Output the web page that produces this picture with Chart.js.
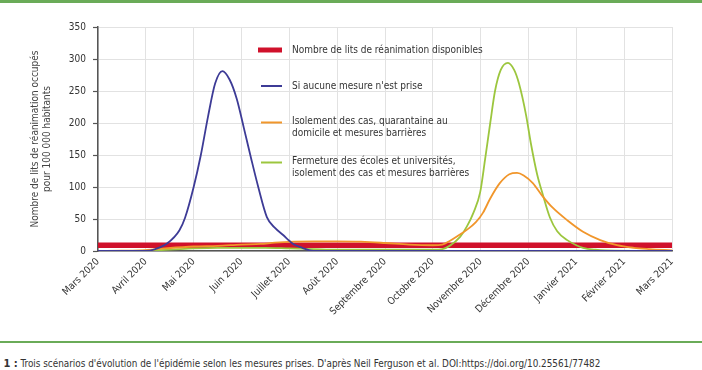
<!DOCTYPE html>
<html lang="fr">
<head>
<meta charset="utf-8">
<script src="https://cdn.jsdelivr.net/npm/chart.js@4.4.1/dist/chart.umd.min.js"></script>
<style>
  html, body { margin: 0; padding: 0; background: #fff; }
  body { width: 702px; height: 370px; position: relative; overflow: hidden;
         font-family: "DejaVu Sans Condensed", sans-serif; }
  .bar { position: absolute; left: 0; width: 702px; background: #6aab58; }
  #top { top: 0; height: 3px; }
  #bottom { top: 341px; height: 2px; }
  #wrap { position: absolute; left: 0; top: 0; width: 702px; height: 335px; }
  #caption { position: absolute; left: -21px; top: 357px; font-size: 9.85px; color: #333; white-space: nowrap; }
  #caption b { font-size: 11px; }
</style>
</head>
<body>
<div class="bar" id="top"></div>
<div id="wrap"><canvas id="chart"></canvas></div>
<div class="bar" id="bottom"></div>
<div id="caption"><b>Fig. 1 :</b> Trois scénarios d'évolution de l'épidémie selon les mesures prises. D'après Neil Ferguson et al. DOI:https://doi.org/10.25561/77482</div>
<script>
// Axis labels
const monthLabels = ["Mars 2020", "Avril 2020", "Mai 2020", "Juin 2020", "Juillet 2020", "Août 2020",
  "Septembre 2020", "Octobre 2020", "Novembre 2020", "Décembre 2020", "Janvier 2021", "Février 2021", "Mars 2021"];
const yTitle = ["Nombre de lits de réanimation occupés", "pour 100 000 habitants"];

// Legend labels
const bedsLabel = ["Nombre de lits de réanimation disponibles"];
const noActionLabel = ["Si aucune mesure n'est prise"];
const isolationLabel = ["Isolement des cas, quarantaine au", "domicile et mesures barrières"];
const schoolsLabel = ["Fermeture des écoles et universités,", "isolement des cas et mesures barrières"];

// Series (x = months since Mars 2020)
const bedsX = [0, 12];
const bedsY = [9, 9];

const noActionX = [0, 1.0, 1.2, 1.45, 1.7, 1.82, 2.0, 2.15, 2.3, 2.45, 2.6, 2.75, 2.9, 3.05, 3.2, 3.35, 3.53, 3.7, 3.87, 4.0, 4.1, 4.27, 4.5, 12];
const noActionY = [0, 0, 3, 12, 32, 52, 100, 150, 210, 262, 281, 268, 238, 192, 145, 100, 53, 36, 25, 16, 10, 5, 0, 0];

const isolationX = [0, 0.5, 1, 1.4, 2, 2.5, 3, 3.4, 3.7, 4.1, 4.5, 5, 5.5, 6, 6.5, 7, 7.2, 7.36, 7.55, 7.71, 7.9, 8.05, 8.2, 8.4, 8.6, 8.76, 8.9, 9.09, 9.28, 9.5, 9.81, 10.14, 10.5, 10.85, 11.2, 11.54, 12];
const isolationY = [0, 0.5, 1.5, 4, 7, 8, 10, 11, 13, 14.5, 15, 15, 14.5, 12.5, 10, 9, 10, 16, 25, 33, 45, 60, 82, 106, 120, 122, 118, 106, 87, 68, 48, 30, 17, 9, 5, 3, 1];

const schoolsX = [0, 1, 1.5, 2, 2.5, 3, 3.5, 4, 4.5, 5, 6, 7, 7.2, 7.35, 7.57, 7.71, 7.85, 7.99, 8.09, 8.2, 8.3, 8.42, 8.57, 8.7, 8.8, 8.95, 9.05, 9.18, 9.3, 9.45, 9.6, 9.81, 10, 10.14, 10.4, 10.6, 12];
const schoolsY = [0, 0.5, 2, 4, 5, 5, 5, 4, 3, 2, 2, 2, 3, 8, 22, 38, 60, 92, 142, 200, 250, 283, 294, 283, 262, 212, 168, 120, 88, 52, 31, 17, 9, 5, 2, 1, 0];

const RED = "#d0112b";
const BLUE = "#3d3b96";
const ORANGE = "#f1962b";
const GREEN = "#9cc63e";
const FONT = '"DejaVu Sans Condensed", sans-serif';

function points(xs, ys) {
  return xs.map((x, i) => ({ x: x, y: ys[i] }));
}

// legend drawn inside the plot, no background
const insideLegend = {
  id: "insideLegend",
  afterDraw(chart) {
    const ctx = chart.ctx;
    const items = [
      { color: RED, width: 5, x0: 258, lines: bedsLabel, y: 50 },
      { color: BLUE, width: 2, x0: 261, lines: noActionLabel, y: 86 },
      { color: ORANGE, width: 2, x0: 261, lines: isolationLabel, y: 121 },
      { color: GREEN, width: 2, x0: 261, lines: schoolsLabel, y: 161 },
    ];
    ctx.save();
    ctx.font = "10px " + FONT;
    ctx.fillStyle = "#333";
    ctx.textBaseline = "middle";
    items.forEach((it) => {
      const ly = it.y + (it.lines.length > 1 ? 1.5 : 0);
      ctx.strokeStyle = it.color;
      ctx.lineWidth = it.width;
      ctx.beginPath();
      ctx.moveTo(it.x0, ly);
      ctx.lineTo(282, ly);
      ctx.stroke();
      it.lines.forEach((t, i) => ctx.fillText(t, 292, it.y + i * 12));
    });
    ctx.restore();
  },
};

const ctx = document.getElementById("chart").getContext("2d");
new Chart(ctx, {
  type: "line",
  data: {
    datasets: [
      { data: points(noActionX, noActionY), borderColor: BLUE, borderWidth: 1.8 },
      { data: points(isolationX, isolationY), borderColor: ORANGE, borderWidth: 1.8 },
      { data: points(schoolsX, schoolsY), borderColor: GREEN, borderWidth: 1.8 },
      { data: points(bedsX, bedsY), borderColor: RED, borderWidth: 5.5, order: 10 },
    ],
  },
  options: {
    responsive: true,
    maintainAspectRatio: false,
    animation: false,
    layout: { padding: { top: 27, right: 30, left: 0, bottom: 0 } },
    elements: {
      point: { radius: 0 },
      line: { cubicInterpolationMode: "monotone", fill: false },
    },
    plugins: { legend: { display: false }, tooltip: { enabled: false } },
    scales: {
      x: {
        type: "linear",
        min: 0,
        max: 12,
        afterFit: (s) => { s.height = 84; },
        ticks: {
          stepSize: 1,
          autoSkip: false,
          minRotation: 45,
          maxRotation: 45,
          padding: 5,
          color: "#333",
          font: { family: FONT, size: 10 },
          callback: (v) => monthLabels[v],
        },
        grid: { color: "#e2e2e2", drawTicks: false },
        border: { color: "#555", width: 1.5 },
      },
      y: {
        min: 0,
        max: 350,
        afterFit: (s) => { s.width = 98; },
        ticks: {
          stepSize: 50,
          padding: 7,
          color: "#333",
          font: { family: FONT, size: 10 },
        },
        grid: { color: "#e2e2e2", tickColor: "#555", tickLength: 5, tickWidth: 1.2 },
        border: { color: "#555", width: 1.5 },
        title: {
          display: true,
          text: yTitle,
          color: "#444",
          padding: { top: 29 },
          font: { family: FONT, size: 10, lineHeight: 1.2 },
        },
      },
    },
  },
  plugins: [insideLegend],
});
</script>
</body>
</html>
